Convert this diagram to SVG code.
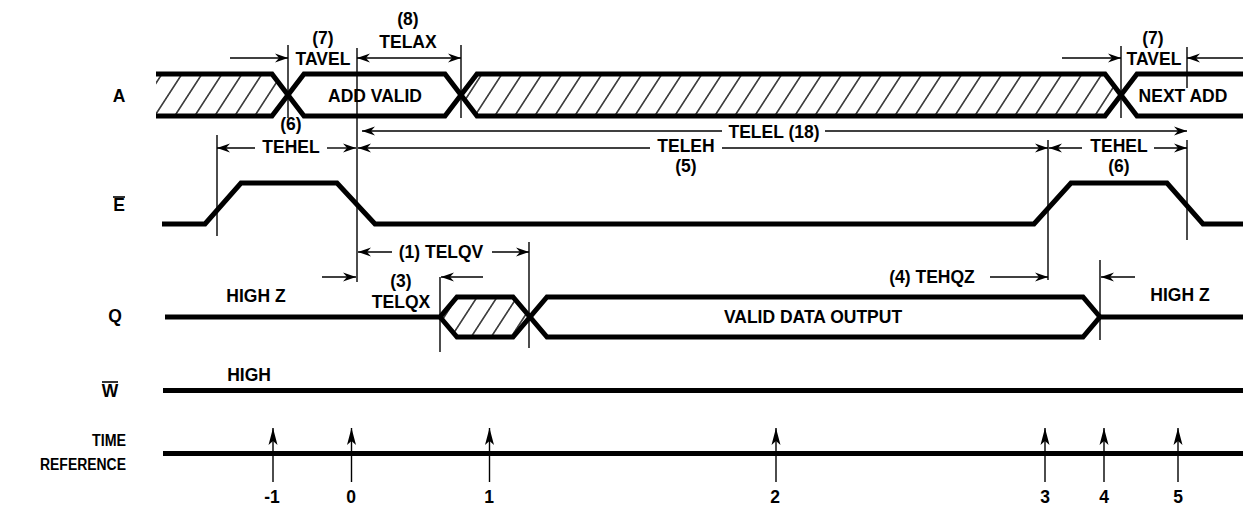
<svg xmlns="http://www.w3.org/2000/svg" width="1243" height="505" viewBox="0 0 1243 505">
<style>
.t{font-family:"Liberation Sans",Arial,Helvetica,sans-serif;font-weight:bold;font-size:17.5px;fill:#000;text-anchor:middle}
.lbl{font-family:"Liberation Sans",Arial,Helvetica,sans-serif;font-weight:bold;font-size:16px;fill:#000;text-anchor:end}
.sig{fill:none;stroke:#000;stroke-width:5;stroke-linejoin:miter;stroke-miterlimit:10}
.ref{fill:none;stroke:#000;stroke-width:1.4}
.dim{fill:none;stroke:#000;stroke-width:1.4}
.ob{stroke:#000;stroke-width:1.6}
</style>
<defs>
<pattern id="hatch" patternUnits="userSpaceOnUse" width="20" height="42" patternTransform="skewX(-33)">
<line x1="10" y1="-10" x2="10" y2="60" stroke="#000" stroke-width="1.5"/>
</pattern>
<marker id="ah" viewBox="-14 -6 15 12" refX="0" refY="0" markerWidth="15" markerHeight="12" markerUnits="userSpaceOnUse" orient="auto-start-reverse">
<path d="M0,0 L-13,-4.5 L-9,0 L-13,4.5 z" fill="#000"/>
</marker>
<marker id="ta" viewBox="-18 -6 19 12" refX="0" refY="0" markerWidth="19" markerHeight="12" markerUnits="userSpaceOnUse" orient="auto">
<path d="M0,0 L-17,-4.5 L-13,0 L-17,4.5 z" fill="#000"/>
</marker>
</defs>
<rect width="1243" height="505" fill="#fff"/>

<g id="sig-A">
<polygon points="156,76 272,76 288,95 272,114 156,114" fill="url(#hatch)"/>
<polygon points="461,95 477,76 1105,76 1121,95 1105,114 477,114" fill="url(#hatch)"/>
<path class="sig" d="M156,74 H272 L304,116 H445 L477,74 H1105 L1137,116 H1243"/>
<path class="sig" d="M156,116 H272 L304,74 H445 L477,116 H1105 L1137,74 H1243"/>
<text class="t" x="119" y="102">A</text>
<text class="t" x="375" y="102">ADD VALID</text>
<text class="t" x="1183" y="102">NEXT ADD</text>
</g>

<g id="sig-E">
<path class="sig" d="M162,224 H205 L241,183 H337 L375,224 H1034 L1071,183 H1167 L1203,224 H1243"/>
<text class="t" x="119" y="211">E</text>
<line class="ob" x1="113" y1="197" x2="125" y2="197"/>
</g>

<g id="sig-Q">
<polygon points="442,317 458,299 512,299 528,317 512,335 458,335" fill="url(#hatch)"/>
<path class="sig" d="M165,317 H440 L457,297 H513 L547,337 H1083 L1100,317 H1243"/>
<path class="sig" d="M440,317 L457,337 H513 L547,297 H1083 L1100,317"/>
<text class="t" x="115" y="322">Q</text>
<text class="t" x="256" y="302">HIGH Z</text>
<text class="t" x="813" y="323">VALID DATA OUTPUT</text>
<text class="t" x="1180" y="301">HIGH Z</text>
</g>

<g id="sig-W">
<path class="sig" d="M163,390.5 H1243"/>
<text class="t" x="110" y="397">W</text>
<line class="ob" x1="102" y1="382" x2="118" y2="382"/>
<text class="t" x="249" y="381">HIGH</text>
</g>

<g id="sig-time">
<path class="sig" d="M163,453.5 H1243"/>
<text class="lbl" x="126" y="446" textLength="34" lengthAdjust="spacingAndGlyphs">TIME</text>
<text class="lbl" x="126" y="470" textLength="86" lengthAdjust="spacingAndGlyphs">REFERENCE</text>
<text class="t" x="272" y="503">-1</text>
<text class="t" x="351" y="503">0</text>
<text class="t" x="489" y="503">1</text>
<text class="t" x="775" y="503">2</text>
<text class="t" x="1045" y="503">3</text>
<text class="t" x="1104" y="503">4</text>
<text class="t" x="1178" y="503">5</text>
</g>

<g id="connectors">
<line class="ref" x1="288" y1="45" x2="288" y2="118"/>
<line class="ref" x1="357" y1="48" x2="357" y2="282"/>
<line class="ref" x1="461" y1="45" x2="461" y2="118"/>
<line class="ref" x1="1121" y1="46" x2="1121" y2="118"/>
<line class="ref" x1="1187" y1="47" x2="1187" y2="88"/>
<line class="ref" x1="217" y1="135" x2="217" y2="236"/>
<line class="ref" x1="1048" y1="140" x2="1048" y2="280"/>
<line class="ref" x1="1187" y1="140" x2="1187" y2="240"/>
<line class="ref" x1="440" y1="277" x2="440" y2="352"/>
<line class="ref" x1="529" y1="242" x2="529" y2="348"/>
<line class="ref" x1="1100" y1="260" x2="1100" y2="340"/>

<line class="dim" x1="230" y1="58" x2="288" y2="58" marker-end="url(#ah)"/>
<line class="dim" x1="357" y1="58" x2="461" y2="58" marker-start="url(#ah)" marker-end="url(#ah)"/>
<line class="dim" x1="1062" y1="58" x2="1121" y2="58" marker-end="url(#ah)"/>
<line class="dim" x1="1243" y1="58" x2="1187" y2="58" marker-end="url(#ah)"/>
<text class="t" x="323" y="44">(7)</text>
<text class="t" x="323" y="65">TAVEL</text>
<text class="t" x="408" y="25">(8)</text>
<text class="t" x="408" y="48">TELAX</text>
<text class="t" x="1153" y="44">(7)</text>
<text class="t" x="1154" y="65">TAVEL</text>

<line class="dim" x1="255" y1="148" x2="217" y2="148" marker-end="url(#ah)"/>
<line class="dim" x1="327" y1="148" x2="356" y2="148" marker-end="url(#ah)"/>
<text class="t" x="291" y="130">(6)</text>
<text class="t" x="291" y="153">TEHEL</text>

<line class="dim" x1="722" y1="131" x2="362" y2="131" marker-end="url(#ah)"/>
<line class="dim" x1="825" y1="131" x2="1187" y2="131" marker-end="url(#ah)"/>
<text class="t" x="774" y="138">TELEL (18)</text>

<line class="dim" x1="650" y1="148" x2="358" y2="148" marker-end="url(#ah)"/>
<line class="dim" x1="722" y1="148" x2="1048" y2="148" marker-end="url(#ah)"/>
<text class="t" x="686" y="152">TELEH</text>
<text class="t" x="686" y="172">(5)</text>

<line class="dim" x1="1082" y1="148" x2="1049" y2="148" marker-end="url(#ah)"/>
<line class="dim" x1="1154" y1="148" x2="1187" y2="148" marker-end="url(#ah)"/>
<text class="t" x="1119" y="152">TEHEL</text>
<text class="t" x="1119" y="172">(6)</text>

<line class="dim" x1="392" y1="252" x2="358" y2="252" marker-end="url(#ah)"/>
<line class="dim" x1="492" y1="252" x2="529" y2="252" marker-end="url(#ah)"/>
<text class="t" x="441" y="258">(1) TELQV</text>

<line class="dim" x1="322" y1="277" x2="356" y2="277" marker-end="url(#ah)"/>
<line class="dim" x1="483" y1="277" x2="441" y2="277" marker-end="url(#ah)"/>
<text class="t" x="401" y="287">(3)</text>
<text class="t" x="401" y="308">TELQX</text>

<line class="dim" x1="990" y1="277" x2="1048" y2="277" marker-end="url(#ah)"/>
<line class="dim" x1="1135" y1="277" x2="1101" y2="277" marker-end="url(#ah)"/>
<text class="t" x="932" y="283">(4) TEHQZ</text>

<line class="dim" x1="273" y1="482" x2="273" y2="428" marker-end="url(#ta)"/>
<line class="dim" x1="351.5" y1="482" x2="351.5" y2="428" marker-end="url(#ta)"/>
<line class="dim" x1="489.5" y1="482" x2="489.5" y2="428" marker-end="url(#ta)"/>
<line class="dim" x1="776" y1="482" x2="776" y2="428" marker-end="url(#ta)"/>
<line class="dim" x1="1045" y1="482" x2="1045" y2="428" marker-end="url(#ta)"/>
<line class="dim" x1="1104" y1="482" x2="1104" y2="428" marker-end="url(#ta)"/>
<line class="dim" x1="1178" y1="482" x2="1178" y2="428" marker-end="url(#ta)"/>
</g>
</svg>
